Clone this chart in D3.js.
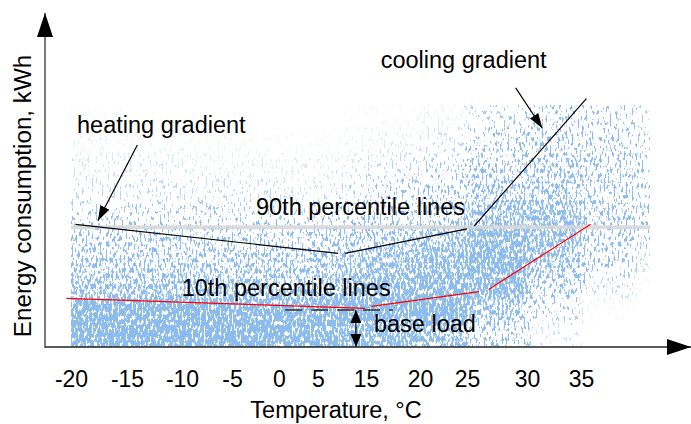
<!DOCTYPE html>
<html>
<head>
	<title>Energy signature</title>
	<script src="https://d3js.org/d3.v7.min.js" charset="utf-8"></script>
	<style>
		body { margin: 0; background: #fff; }
		text { font-family: "Liberation Sans", Arial, sans-serif; }
	</style>
</head>
<body>
	<svg width="691" height="424"></svg>
	<script>
		// tick labels on the temperature axis (10 is not labelled in the original)
		const tempTicks = [-20, -15, -10, -5, 0, 5, 15, 20, 25, 30, 35];

		// density of the scatter cloud
		// columns: 5 degree bins starting at these temperatures
		const binTemps = [-20, -15, -10, -5, 0, 5, 10, 15, 20, 25, 30, 35, 40];
		// rows: energy bins of 10 units starting at these values
		const binEnergy = [0, 10, 20, 30, 40, 50, 60, 70, 80, 90];
		const density = [
			[0.95, 0.92, 0.62, 0.52, 0.42, 0.24, 0.18, 0.14, 0.10, 0.07],
			[0.95, 0.92, 0.62, 0.52, 0.42, 0.24, 0.18, 0.14, 0.09, 0.06],
			[0.95, 0.90, 0.62, 0.52, 0.42, 0.24, 0.17, 0.13, 0.09, 0.06],
			[0.95, 0.88, 0.62, 0.52, 0.42, 0.24, 0.17, 0.12, 0.08, 0.06],
			[0.90, 0.88, 0.62, 0.52, 0.42, 0.22, 0.15, 0.12, 0.08, 0.06],
			[0.85, 0.88, 0.66, 0.56, 0.45, 0.25, 0.17, 0.12, 0.08, 0.06],
			[0.80, 0.88, 0.72, 0.62, 0.50, 0.30, 0.20, 0.14, 0.10, 0.07],
			[0.78, 0.92, 0.78, 0.68, 0.56, 0.36, 0.25, 0.18, 0.12, 0.08],
			[0.66, 0.92, 0.84, 0.74, 0.62, 0.46, 0.32, 0.22, 0.16, 0.10],
			[0.38, 0.60, 0.80, 0.84, 0.78, 0.64, 0.52, 0.42, 0.32, 0.22],
			[0.14, 0.24, 0.45, 0.62, 0.70, 0.66, 0.56, 0.48, 0.40, 0.30],
			[0.05, 0.08, 0.18, 0.30, 0.40, 0.44, 0.44, 0.40, 0.34, 0.26],
			[0.02, 0.04, 0.08, 0.16, 0.25, 0.30, 0.30, 0.26, 0.24, 0.20]
		];
		const cloudTemp = [-20, 41.4];
		const cloudEnergy = [0, 100];

		// percentile lines [temperature, energy]
		const p90Lines = [
			[[-19.6, 50.7], [9.2, 38.7]],
			[[10.6, 38.7], [25.0, 48.8]],
			[[25.6, 50.0], [35.5, 102.6]]
		];
		const p10Lines = [
			[[-20.4, 20.1], [14.8, 16.0]],
			[[15.5, 16.8], [26.0, 22.9]],
			[[26.8, 23.8], [35.9, 50.7]]
		];
		const greyLevel = 49.5;
		const baseLoad = 15.3;
		const baseLoadSpan = [0.8, 17.5];
		const baseLoadAt = 12.9;

		// annotation arrows [from, to]
		const pointers = [
			[[-14.06, 83.5], [-17.6, 52.2]],
			[[29.06, 107.1], [31.42, 90.4]]
		];
		const labels = [
			{ text: 'heating gradient', t: -19.46, e: 88.4 },
			{ text: 'cooling gradient', t: 16.36, e: 115.2 },
			{ text: '90th percentile lines', t: -2.45, e: 54.5 },
			{ text: '10th percentile lines', t: -10.03, e: 21.1 },
			{ text: 'base load', t: 15.74, e: 6.2 }
		];

		const svg = d3.select('svg');
		const originX = 45, originY = 347;

		const x = d3.scaleLinear()
			.domain(tempTicks)
			.range([71, 127, 182, 232, 279, 318, 366, 420, 467, 527, 581]);
		const y = d3.scaleLinear()
			.domain([0, 100])
			.range([originY, 105]);

		const defs = svg.append('defs');

		// speckle filter: blurred density + stretched noise, thresholded into dots
		const f = defs.append('filter').attr('id', 'speckle')
			.attr('filterUnits', 'userSpaceOnUse')
			.attr('x', 0).attr('y', 0).attr('width', 691).attr('height', 424)
			.attr('color-interpolation-filters', 'sRGB');
		f.append('feGaussianBlur').attr('in', 'SourceAlpha').attr('stdDeviation', 5).attr('result', 'd');
		f.append('feTurbulence').attr('type', 'fractalNoise').attr('baseFrequency', '0.5 0.19')
			.attr('numOctaves', 2).attr('seed', 4).attr('result', 'n');
		f.append('feColorMatrix').attr('in', 'n').attr('type', 'matrix')
			.attr('values', '0 0 0 0 0  0 0 0 0 0  0 0 0 0 0  3 0 0 0 -1').attr('result', 'na');
		f.append('feComposite').attr('in', 'd').attr('in2', 'na').attr('operator', 'arithmetic')
			.attr('k1', 0).attr('k2', 1).attr('k3', 1).attr('k4', -1.06).attr('result', 's');
		f.append('feComponentTransfer').attr('in', 's').attr('result', 't')
			.append('feFuncA').attr('type', 'linear').attr('slope', 5).attr('intercept', 0);
		f.append('feFlood').attr('flood-color', '#8cbbee').attr('result', 'c');
		f.append('feComposite').attr('in', 'c').attr('in2', 't').attr('operator', 'in');

		defs.append('clipPath').attr('id', 'cloudClip')
			.append('rect')
			.attr('x', x(cloudTemp[0])).attr('y', y(cloudEnergy[1]))
			.attr('width', x(cloudTemp[1]) - x(cloudTemp[0]))
			.attr('height', y(cloudEnergy[0]) - y(cloudEnergy[1]));

		function marker(id, len, wid) {
			defs.append('marker').attr('id', id)
				.attr('markerUnits', 'userSpaceOnUse')
				.attr('viewBox', `0 ${-wid / 2} ${len} ${wid}`)
				.attr('refX', len).attr('refY', 0)
				.attr('markerWidth', len).attr('markerHeight', wid)
				.attr('orient', 'auto-start-reverse')
				.append('path')
				.attr('d', `M0,${-wid / 2}L${len},0L0,${wid / 2}Z`)
				.attr('fill', '#000');
		}
		marker('axisHead', 24, 16);
		marker('pointHead', 15, 10);
		marker('smallHead', 13, 11);

		// cloud; edge cells are drawn past the clip so the blur does not fade the edges
		const pad = 14;
		const lastT = binTemps[binTemps.length - 1], lastE = binEnergy[binEnergy.length - 1];
		const cells = [];
		binTemps.forEach((t, i) => binEnergy.forEach((e, j) => cells.push({ t, e, v: density[i][j] })));
		svg.append('g')
			.attr('clip-path', 'url(#cloudClip)')
			.append('g')
			.attr('filter', 'url(#speckle)')
			.selectAll('rect')
			.data(cells)
			.enter()
			.append('rect')
			.attr('x', d => x(d.t) - (d.t === binTemps[0] ? pad : 0))
			.attr('y', d => y(d.e + 10) - (d.e === lastE ? pad : 0))
			.attr('width', d => x(d.t + 5) - x(d.t) + (d.t === binTemps[0] || d.t === lastT ? pad : 0))
			.attr('height', d => y(d.e) - y(d.e + 10) + (d.e === lastE || d.e === 0 ? pad : 0))
			.attr('fill', '#000')
			.attr('fill-opacity', d => d.v);

		// grey reference line
		svg.append('line')
			.attr('x1', x(cloudTemp[0])).attr('x2', x(cloudTemp[1]))
			.attr('y1', y(greyLevel)).attr('y2', y(greyLevel))
			.attr('stroke', '#d6d6d6').attr('stroke-opacity', 0.85).attr('stroke-width', 4);

		const line = d3.line().x(d => x(d[0])).y(d => y(d[1]));

		svg.selectAll('.p90').data(p90Lines).enter().append('path')
			.attr('d', line).attr('fill', 'none').attr('stroke', '#000').attr('stroke-width', 1.2);
		svg.selectAll('.p10').data(p10Lines).enter().append('path')
			.attr('d', line).attr('fill', 'none').attr('stroke', '#ff0000').attr('stroke-width', 1.2);

		// base load
		svg.append('line')
			.attr('x1', x(baseLoadSpan[0])).attr('x2', x(baseLoadSpan[1]))
			.attr('y1', y(baseLoad)).attr('y2', y(baseLoad))
			.attr('stroke', '#333').attr('stroke-width', 1.5).attr('stroke-dasharray', '17,9');
		svg.append('line')
			.attr('x1', x(baseLoadAt)).attr('x2', x(baseLoadAt))
			.attr('y1', y(baseLoad)).attr('y2', y(0))
			.attr('stroke', '#000').attr('stroke-width', 1.2)
			.attr('marker-start', 'url(#smallHead)').attr('marker-end', 'url(#smallHead)');

		// pointers
		svg.selectAll('.ptr').data(pointers).enter().append('path')
			.attr('d', line).attr('fill', 'none').attr('stroke', '#000').attr('stroke-width', 1.2)
			.attr('marker-end', 'url(#pointHead)');

		svg.selectAll('.lbl').data(labels).enter().append('text')
			.attr('x', d => x(d.t)).attr('y', d => y(d.e))
			.attr('font-size', 23.5)
			.text(d => d.text);

		// axes
		const xAxis = svg.append('g')
			.attr('transform', `translate(0,${originY})`)
			.call(d3.axisBottom(x).tickValues(tempTicks).tickSize(0).tickFormat(d => String(d)));
		xAxis.select('.domain').remove();
		xAxis.selectAll('text')
			.attr('y', 40).attr('dy', 0)
			.attr('font-size', 23).attr('fill', '#000')
			.style('font-family', '"Liberation Sans", Arial, sans-serif');

		svg.append('line')
			.attr('x1', originX).attr('x2', 691)
			.attr('y1', originY).attr('y2', originY)
			.attr('stroke', '#222').attr('stroke-width', 1.4)
			.attr('marker-end', 'url(#axisHead)');
		svg.append('line')
			.attr('x1', originX).attr('x2', originX)
			.attr('y1', originY + 1).attr('y2', 13)
			.attr('stroke', '#444').attr('stroke-width', 1.4)
			.attr('marker-end', 'url(#axisHead)');

		svg.append('text')
			.attr('x', 336).attr('y', 418)
			.attr('text-anchor', 'middle').attr('font-size', 23.5)
			.text('Temperature, °C');
		svg.append('text')
			.attr('transform', 'translate(31,196) rotate(-90)')
			.attr('text-anchor', 'middle').attr('font-size', 24.2)
			.text('Energy consumption, kWh');
	</script>
</body>
</html>
